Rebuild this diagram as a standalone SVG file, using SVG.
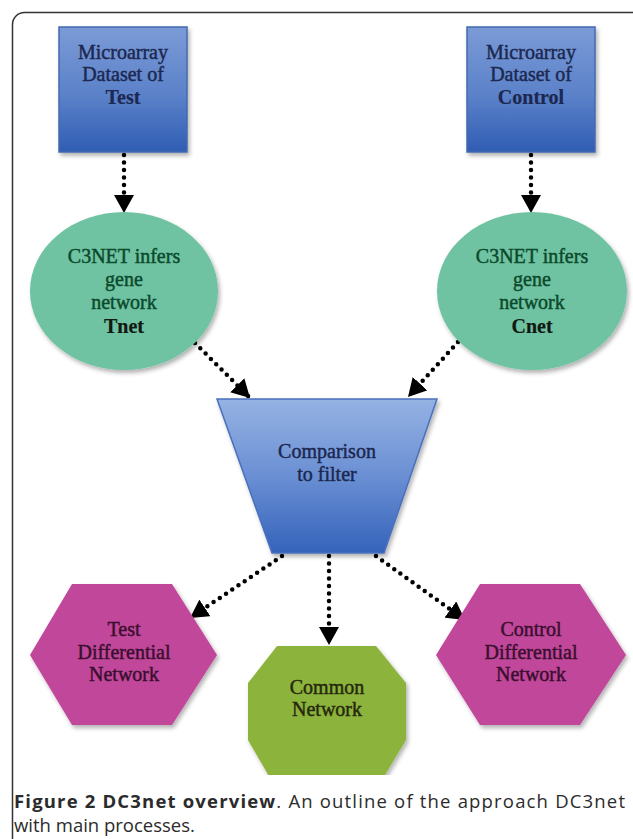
<svg xmlns="http://www.w3.org/2000/svg" width="633" height="839" viewBox="0 0 633 839">
  <defs>
    <linearGradient id="boxGrad" x1="0" y1="0" x2="0" y2="1">
      <stop offset="0" stop-color="#7b9bd6"/>
      <stop offset="0.55" stop-color="#5b81c9"/>
      <stop offset="1" stop-color="#2f5db3"/>
    </linearGradient>
    <linearGradient id="trapGrad" x1="0" y1="0" x2="0" y2="1">
      <stop offset="0" stop-color="#95b2e3"/>
      <stop offset="0.5" stop-color="#6a8fd3"/>
      <stop offset="1" stop-color="#3563bb"/>
    </linearGradient>
    <filter id="shadow" x="-10%" y="-10%" width="125%" height="125%">
      <feDropShadow dx="2" dy="3" stdDeviation="2" flood-color="#000" flood-opacity="0.3"/>
    </filter>
    <marker id="arrow" viewBox="0 0 18 20" refX="18" refY="10" markerWidth="18" markerHeight="20" markerUnits="userSpaceOnUse" orient="auto">
      <path d="M0,0 L18,10 L0,20 z" fill="#000"/>
    </marker>
    <clipPath id="figClip">
      <rect x="0" y="0" width="633" height="775"/>
    </clipPath>
    <style>
      .lbl { font-family: "Liberation Serif", "DejaVu Serif", serif; font-size: 20px; text-anchor: middle; stroke-width: 0.45px; }
      .b { font-weight: bold; stroke-width: 0.2px; }
      .boxTxt { fill: #1c2850; stroke: #1c2850; }
      .ellTxt { fill: #0b4a2c; stroke: #0b4a2c; }
      .dark { fill: #101a12; stroke: #101a12; }
      .hexTxt { fill: #3a0f2e; stroke: #3a0f2e; }
      .octTxt { fill: #26280e; stroke: #26280e; }
      .dots { fill: none; stroke: #000; stroke-width: 4.5; stroke-linecap: round; stroke-dasharray: 0 7.5; marker-end: url(#arrow); }
      .cap { font-family: "Open Sans", "Liberation Sans", sans-serif; font-size: 18.5px; fill: #2b2b2b; }
    </style>
  </defs>

  <rect width="633" height="839" fill="#fff"/>

  <!-- figure frame -->
  <rect x="12.5" y="12.5" width="640" height="850" rx="12" ry="12" fill="none" stroke="#333" stroke-width="1.5"/>

  <!-- connectors -->
  <g id="connectors">
    <path class="dots" d="M124,155 L124,213"/>
    <path class="dots" d="M531,155 L531,213"/>
    <path class="dots" d="M195,343 L250,398"/>
    <path class="dots" d="M458,342 L408,397"/>
    <path class="dots" d="M282,556 L190,618"/>
    <path class="dots" d="M329,556 L329,645"/>
    <path class="dots" d="M376,556 L465,620"/>
  </g>

  <g id="test-dataset">
    <rect x="59" y="27" width="128" height="125" fill="url(#boxGrad)" stroke="#4469b0" stroke-width="1.5" filter="url(#shadow)"/>
    <text class="lbl boxTxt" x="123" y="59">Microarray</text>
    <text class="lbl boxTxt" x="123" y="81">Dataset of</text>
    <text class="lbl boxTxt b" x="123" y="104">Test</text>
  </g>

  <g id="control-dataset">
    <rect x="467" y="27" width="128" height="125" fill="url(#boxGrad)" stroke="#4469b0" stroke-width="1.5" filter="url(#shadow)"/>
    <text class="lbl boxTxt" x="531" y="59">Microarray</text>
    <text class="lbl boxTxt" x="531" y="81">Dataset of</text>
    <text class="lbl boxTxt b" x="531" y="104">Control</text>
  </g>

  <g id="tnet">
    <ellipse cx="124" cy="291" rx="94" ry="79" fill="#6fc3a2" filter="url(#shadow)"/>
    <text class="lbl ellTxt" x="124" y="263">C3NET infers</text>
    <text class="lbl ellTxt" x="124" y="286">gene</text>
    <text class="lbl ellTxt" x="124" y="309">network</text>
    <text class="lbl b dark" x="124" y="333">Tnet</text>
  </g>

  <g id="cnet">
    <ellipse cx="532" cy="291" rx="95" ry="79" fill="#6fc3a2" filter="url(#shadow)"/>
    <text class="lbl ellTxt" x="532" y="263">C3NET infers</text>
    <text class="lbl ellTxt" x="532" y="286">gene</text>
    <text class="lbl ellTxt" x="532" y="309">network</text>
    <text class="lbl b dark" x="532" y="333">Cnet</text>
  </g>

  <g id="comparison">
    <polygon points="217,399 437,399 384,553 272,553" fill="url(#trapGrad)" stroke="#4a70bd" stroke-width="1.5" filter="url(#shadow)"/>
    <text class="lbl boxTxt" x="327" y="458">Comparison</text>
    <text class="lbl boxTxt" x="327" y="481">to filter</text>
  </g>

  <g id="test-differential">
    <polygon points="30,655 72,584 172,584 217,655 172,725 72,725" fill="#c1469b" filter="url(#shadow)"/>
    <text class="lbl hexTxt" x="124" y="636">Test</text>
    <text class="lbl hexTxt" x="124" y="659">Differential</text>
    <text class="lbl hexTxt" x="124" y="681">Network</text>
  </g>

  <g id="control-differential">
    <polygon points="436,655 480,584 580,584 626,655 580,725 480,725" fill="#c1469b" filter="url(#shadow)"/>
    <text class="lbl hexTxt" x="531" y="636">Control</text>
    <text class="lbl hexTxt" x="531" y="659">Differential</text>
    <text class="lbl hexTxt" x="531" y="681">Network</text>
  </g>

  <g id="common" clip-path="url(#figClip)">
    <polygon points="277,646 376,646 406,683 406,740 376,790 277,790 248,740 248,683" fill="#8cb33b" filter="url(#shadow)"/>
    <text class="lbl octTxt" x="327" y="694">Common</text>
    <text class="lbl octTxt" x="327" y="716">Network</text>
  </g>

  <g id="caption">
    <text class="cap" x="14" y="808" textLength="611" lengthAdjust="spacing"><tspan font-weight="bold">Figure 2 DC3net overview</tspan>. An outline of the approach DC3net</text>
    <text class="cap" x="14" y="832">with main processes.</text>
  </g>
</svg>
